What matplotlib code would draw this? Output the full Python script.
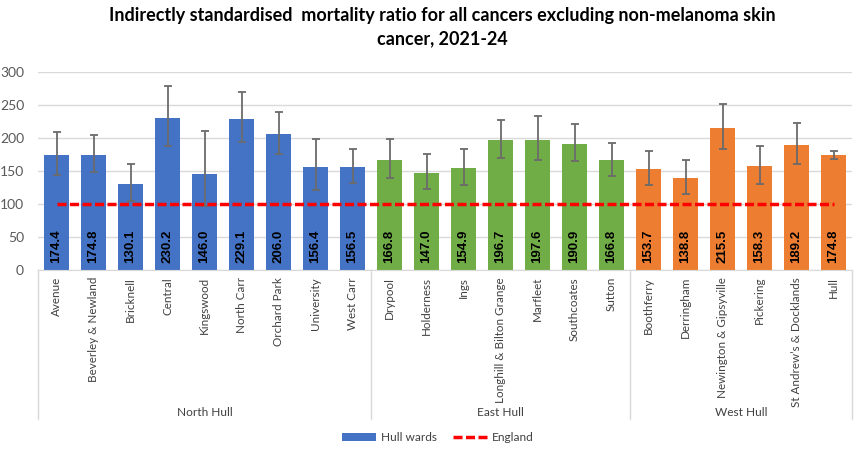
import matplotlib
matplotlib.use("Agg")
import matplotlib.pyplot as plt
from matplotlib.patches import Patch
from matplotlib.lines import Line2D
import numpy as np

plt.rcParams['font.family'] = ['Lato', 'DejaVu Sans']

wards = ["Avenue", "Beverley & Newland", "Bricknell", "Central", "Kingswood", "North Carr",
         "Orchard Park", "University", "West Carr",
         "Drypool", "Holderness", "Ings", "Longhill & Bilton Grange", "Marfleet", "Southcoates", "Sutton",
         "Boothferry", "Derringham", "Newington & Gipsyville", "Pickering", "St Andrew\u2019s & Docklands", "Hull"]
groups = ["North Hull", "East Hull", "West Hull"]
group_sizes = [9, 7, 6]
values = [174.4, 174.8, 130.1, 230.2, 146.0, 229.1, 206.0, 156.4, 156.5,
          166.8, 147.0, 154.9, 196.7, 197.6, 190.9, 166.8,
          153.7, 138.8, 215.5, 158.3, 189.2, 174.8]
lower = [144, 148.5, 104, 188, 97.5, 194, 176, 121, 132,
         139, 122, 129, 169, 166, 165, 143,
         129, 115, 184, 131, 160, 168]
upper = [209, 204, 160, 279, 210, 269, 239, 199, 184,
         198, 176, 183, 227, 233, 221, 193,
         181, 166, 251, 188, 222, 181]
england = [100] * len(wards)
yticks = [0, 50, 100, 150, 200, 250, 300]

group_colors = ["#4472C4", "#70AD47", "#ED7D31"]
bar_colors = []
for c, n in zip(group_colors, group_sizes):
    bar_colors += [c] * n

fig = plt.figure(figsize=(8.67, 4.57), dpi=100)
ax = fig.add_axes([38/867, (457-270)/457, (852-38)/867, 198/457])

x = np.arange(len(wards))
vals = np.array(values)
yerr = [vals - np.array(lower), np.array(upper) - vals]
ax.bar(x, vals, width=0.67, color=bar_colors, zorder=2)
ax.errorbar(x, vals, yerr=yerr, fmt='none', ecolor='#6b6b6b', elinewidth=1.3,
            capsize=3, capthick=1.3, zorder=3)
dash = (0, (2.6, 1.0))
ax.plot(x, england, color='#FF0000', linestyle=dash, linewidth=2.5, zorder=4)

for xi, v in zip(x, values):
    ax.text(xi, 11, f"{v:.1f}", rotation=90, ha='center', va='bottom',
            fontsize=9.5, fontweight='bold', color='black', zorder=5,
            family=['Liberation Sans', 'DejaVu Sans'])

ax.set_xlim(-0.5, len(wards) - 0.5)
ax.set_ylim(0, 300)
ax.set_yticks(yticks)
ax.tick_params(axis='y', length=0, labelsize=10, labelcolor='#595959', pad=10)
ax.grid(axis='y', color='#d9d9d9', linewidth=1, zorder=0)
ax.set_axisbelow(True)
for s in ['top', 'right', 'left']:
    ax.spines[s].set_visible(False)
ax.spines['bottom'].set_color('#d9d9d9')

ax.set_xticks(x)
ax.set_xticklabels(wards, rotation=90, fontsize=8.4, color='#404040', va='top', ha='center')
ax.tick_params(axis='x', length=0, pad=5)

# group separators and labels
trans = ax.get_xaxis_transform()
bounds = [-0.5]
for n in group_sizes:
    bounds.append(bounds[-1] + n)
for b in bounds:
    ax.plot([b, b], [0, -0.755], color='#d9d9d9', linewidth=1, transform=trans, clip_on=False)
for i, g in enumerate(groups):
    mid = (bounds[i] + bounds[i + 1]) / 2
    ax.text(mid, -0.72, g, transform=trans, ha='center', va='center', fontsize=8.6, color='#404040')

fig.suptitle("Indirectly standardised  mortality ratio for all cancers excluding non-melanoma skin\ncancer, 2021-24",
             x=0.51, y=0.985, fontsize=13, fontweight='bold', color='black', linespacing=1.45)

handles = [Patch(facecolor='#4472C4', label='Hull wards'),
           Line2D([0], [0], color='#FF0000', linestyle=dash, linewidth=2.5, label='England')]
fig.legend(handles=handles, loc='center', bbox_to_anchor=(0.505, 0.042), ncol=2, frameon=False,
           fontsize=8.6, handlelength=2.9, handleheight=0.55, handletextpad=0.4,
           columnspacing=1.3, labelcolor='#404040')

fig.savefig("out.png", dpi=100)
